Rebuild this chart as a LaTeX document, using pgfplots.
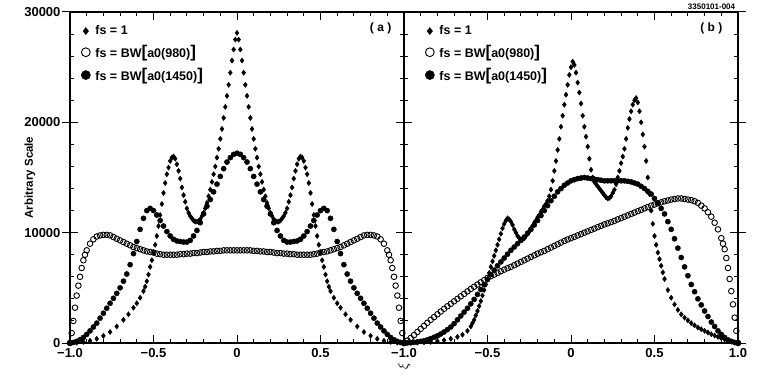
\documentclass[border=0pt]{standalone}
\usepackage{fontspec}
\setmainfont{Liberation Sans}
\usepackage{pgfplots}
\pgfplotsset{compat=1.18}

\newcommand{\lb}{{\fontsize{17}{17}\selectfont[}}
\newcommand{\rb}{{\fontsize{17}{17}\selectfont]}}

\pgfplotsset{
  panel/.style={
    scale only axis, width=334pt, height=331pt,
    anchor=south west, clip mode=individual,
    xmin=-1, xmax=1, ymin=0, ymax=30000,
    xtick={-1,-0.5,0,0.5,1}, ytick={0,10000,20000,30000},
    scaled y ticks=false, scaled x ticks=false,
    minor x tick num=4, minor y tick num=4,
    tick align=inside,
    major tick length=8pt, minor tick length=4pt,
    axis line style={line width=1.3pt},
    every tick/.style={black, line width=1pt},
    extra y ticks={0,10000,20000,30000},
    extra y tick labels={\phantom{0},\phantom{0},\phantom{0},\phantom{0}},
    extra y tick style={tick align=outside, major tick length=8pt},
    ticklabel style={font=\bfseries\fontsize{13}{15}\selectfont},
    xticklabel style={yshift=-2pt},
    yticklabel style={xshift=-6pt},
    legend style={anchor=north west,
      draw=none, fill=none, row sep=5pt, column sep=3pt, inner sep=0pt,
      font=\bfseries\fontsize{12.5}{14}\selectfont},
    legend cell align=left,
    legend image code/.code={\draw[##1] plot coordinates {(0.15cm,0cm)};},
  },
  dia/.style={only marks, mark=diamond*, mark size=2.6pt, black,
    legend image post style={mark size=3.6pt}},
  ope/.style={only marks, mark=o, mark size=2.8pt, black, mark options={line width=0.9pt},
    legend image post style={mark size=4.4pt}},
  ful/.style={only marks, mark=*, mark size=2.6pt, black,
    legend image post style={mark size=4.6pt}},
}

\begin{document}
\begin{tikzpicture}
\useasboundingbox (-70pt,-38pt) rectangle (691pt,343pt);

% ---------------- panel (a)
\begin{axis}[panel, at={(0pt,0pt)},
  xticklabels={−1.0,−0.5,0,0.5,},
  yticklabels={0,10000,20000,30000},
  legend style={at={(axis description cs:0.033,0.965)}},
  every axis y label/.style={at={(axis description cs:-0.12,0.5)}, rotate=90, anchor=center,
    font=\bfseries\fontsize{11.5}{13}\selectfont},
  ylabel={Arbitrary Scale}]
\addplot[dia] coordinates {
(-1.00,0)(-0.96,30)(-0.92,100)(-0.88,200)(-0.84,380)(-0.80,650)(-0.76,1000)(-0.72,1500)
(-0.68,2100)(-0.65,2600)(-0.62,3200)(-0.60,3600)(-0.58,4100)(-0.56,4700)(-0.55,5100)(-0.54,5600)
(-0.53,6200)(-0.52,6900)(-0.51,7500)(-0.50,8200)(-0.49,8900)(-0.48,9700)(-0.47,10600)(-0.46,11600)
(-0.45,12600)(-0.44,13600)(-0.43,14500)(-0.42,15300)(-0.41,15900)(-0.40,16500)(-0.39,16800)(-0.38,16900)
(-0.37,16700)(-0.36,16200)(-0.35,15600)(-0.34,14900)(-0.33,14100)(-0.32,13400)(-0.31,12800)(-0.30,12200)
(-0.29,11800)(-0.28,11500)(-0.27,11300)(-0.26,11100)(-0.25,11000)(-0.24,11000)(-0.23,11050)(-0.22,11200)
(-0.21,11500)(-0.20,11800)(-0.19,12200)(-0.18,12700)(-0.17,13300)(-0.16,13900)(-0.15,14600)(-0.14,15300)
(-0.13,16000)(-0.12,16800)(-0.11,17600)(-0.10,18500)(-0.09,19400)(-0.08,20400)(-0.07,21400)(-0.06,22400)
(-0.05,23400)(-0.04,24500)(-0.03,25600)(-0.02,26600)(-0.01,27500)(0.00,28100)
(0.01,27500)(0.02,26600)(0.03,25600)(0.04,24500)(0.05,23400)(0.06,22400)(0.07,21400)(0.08,20400)
(0.09,19400)(0.10,18500)(0.11,17600)(0.12,16800)(0.13,16000)(0.14,15300)(0.15,14600)(0.16,13900)
(0.17,13300)(0.18,12700)(0.19,12200)(0.20,11800)(0.21,11500)(0.22,11200)(0.23,11050)(0.24,11000)
(0.25,11000)(0.26,11100)(0.27,11300)(0.28,11500)(0.29,11800)(0.30,12200)(0.31,12800)(0.32,13400)
(0.33,14100)(0.34,14900)(0.35,15600)(0.36,16200)(0.37,16700)(0.38,16900)(0.39,16800)(0.40,16500)
(0.41,15900)(0.42,15300)(0.43,14500)(0.44,13600)(0.45,12600)(0.46,11600)(0.47,10600)(0.48,9700)
(0.49,8900)(0.50,8200)(0.51,7500)(0.52,6900)(0.53,6200)(0.54,5600)(0.55,5100)(0.56,4700)
(0.58,4100)(0.60,3600)(0.62,3200)(0.65,2600)(0.68,2100)(0.72,1500)(0.76,1000)(0.80,650)
(0.84,380)(0.88,200)(0.92,100)(0.96,30)(1.00,0)};
\addlegendentry{fs = 1}
\addplot[ope] coordinates {
(-1.00,0)(-0.99,900)(-0.98,2000)(-0.97,3200)(-0.96,4300)(-0.95,5200)(-0.94,6000)(-0.93,6800)
(-0.92,7500)(-0.91,8000)(-0.90,8400)(-0.88,9000)(-0.86,9400)(-0.84,9650)(-0.82,9750)(-0.80,9800)
(-0.78,9800)(-0.76,9750)(-0.74,9600)(-0.72,9450)(-0.70,9300)(-0.68,9150)(-0.66,9000)(-0.64,8850)
(-0.62,8700)(-0.60,8600)(-0.58,8500)(-0.56,8400)(-0.54,8300)(-0.52,8250)(-0.50,8200)(-0.48,8100)
(-0.46,8050)(-0.44,8000)(-0.42,8000)(-0.40,8000)(-0.38,8000)(-0.36,8000)(-0.34,8050)(-0.32,8050)
(-0.30,8100)(-0.28,8100)(-0.26,8150)(-0.24,8150)(-0.22,8200)(-0.20,8250)(-0.18,8250)(-0.16,8300)
(-0.14,8300)(-0.12,8350)(-0.10,8350)(-0.08,8400)(-0.06,8400)(-0.04,8400)(-0.02,8400)(0.00,8400)
(0.02,8400)(0.04,8400)(0.06,8400)(0.08,8400)(0.10,8350)(0.12,8350)(0.14,8300)(0.16,8300)
(0.18,8250)(0.20,8250)(0.22,8200)(0.24,8150)(0.26,8150)(0.28,8100)(0.30,8100)(0.32,8050)
(0.34,8050)(0.36,8000)(0.38,8000)(0.40,8000)(0.42,8000)(0.44,8000)(0.46,8050)(0.48,8100)
(0.50,8200)(0.52,8250)(0.54,8300)(0.56,8400)(0.58,8500)(0.60,8600)(0.62,8700)(0.64,8850)
(0.66,9000)(0.68,9150)(0.70,9300)(0.72,9450)(0.74,9600)(0.76,9750)(0.78,9800)(0.80,9800)
(0.82,9750)(0.84,9650)(0.86,9400)(0.88,9000)(0.90,8400)(0.91,8000)(0.92,7500)(0.93,6800)
(0.94,6000)(0.95,5200)(0.96,4300)(0.97,3200)(0.98,2000)(0.99,900)(1.00,0)};
\addlegendentry{fs = BW\lb a0(980)\rb}
\addplot[ful] coordinates {
(-1.00,0)(-0.98,50)(-0.96,150)(-0.94,300)(-0.92,500)(-0.90,780)(-0.88,1100)(-0.86,1450)
(-0.84,1800)(-0.82,2250)(-0.80,2700)(-0.78,3150)(-0.76,3600)(-0.74,4050)(-0.72,4500)(-0.70,5000)
(-0.68,5600)(-0.66,6250)(-0.64,7100)(-0.62,8100)(-0.60,9200)(-0.58,10300)(-0.56,11300)(-0.54,12000)
(-0.52,12200)(-0.50,12000)(-0.48,11600)(-0.46,11100)(-0.44,10600)(-0.42,10100)(-0.40,9700)(-0.38,9400)
(-0.36,9250)(-0.34,9200)(-0.32,9150)(-0.30,9150)(-0.28,9300)(-0.26,9700)(-0.24,10200)(-0.22,10900)
(-0.20,11700)(-0.18,12400)(-0.16,13000)(-0.14,13700)(-0.12,14400)(-0.10,15100)(-0.08,15800)(-0.06,16400)
(-0.04,16800)(-0.02,17100)(0.00,17200)(0.02,17100)(0.04,16800)(0.06,16400)(0.08,15800)(0.10,15100)
(0.12,14400)(0.14,13700)(0.16,13000)(0.18,12400)(0.20,11700)(0.22,10900)(0.24,10200)(0.26,9700)
(0.28,9300)(0.30,9150)(0.32,9150)(0.34,9200)(0.36,9250)(0.38,9400)(0.40,9700)(0.42,10100)
(0.44,10600)(0.46,11100)(0.48,11600)(0.50,12000)(0.52,12200)(0.54,12000)(0.56,11300)(0.58,10300)
(0.60,9200)(0.62,8100)(0.64,7100)(0.66,6250)(0.68,5600)(0.70,5000)(0.72,4500)(0.74,4050)
(0.76,3600)(0.78,3150)(0.80,2700)(0.82,2250)(0.84,1800)(0.86,1450)(0.88,1100)(0.90,780)
(0.92,500)(0.94,300)(0.96,150)(0.98,50)(1.00,0)};
\addlegendentry{fs = BW\lb a0(1450)\rb}
\node[font=\bfseries\fontsize{12}{14}\selectfont] at (axis description cs:0.93,0.95) {( a )};
\end{axis}

% ---------------- panel (b)
\begin{axis}[panel, at={(334pt,0pt)},
  xticklabels={−1.0,−0.5,0,0.5,1.0},
  yticklabels={\phantom{0},\phantom{0},\phantom{0},\phantom{0}},
  legend style={at={(axis description cs:0.063,0.965)}}]
\addplot[dia] coordinates {
(-1.00,0)(-0.96,10)(-0.92,30)(-0.88,60)(-0.84,100)(-0.80,170)(-0.76,250)(-0.72,380)
(-0.68,560)(-0.65,750)(-0.62,1100)(-0.60,1500)(-0.59,1800)(-0.58,2100)(-0.57,2500)(-0.56,2900)
(-0.55,3350)(-0.54,3800)(-0.53,4300)(-0.52,4800)(-0.51,5300)(-0.50,5800)(-0.49,6350)(-0.48,6900)
(-0.47,7400)(-0.46,7900)(-0.45,8400)(-0.44,8900)(-0.43,9400)(-0.42,9900)(-0.41,10400)(-0.40,10800)
(-0.39,11100)(-0.38,11300)(-0.37,11200)(-0.36,11000)(-0.35,10700)(-0.34,10300)(-0.33,10000)(-0.32,9700)
(-0.31,9500)(-0.30,9400)(-0.29,9400)(-0.28,9500)(-0.27,9700)(-0.26,9900)(-0.25,10100)(-0.24,10400)
(-0.23,10600)(-0.22,10900)(-0.21,11100)(-0.20,11400)(-0.19,11600)(-0.18,11900)(-0.17,12100)(-0.16,12400)
(-0.15,12600)(-0.14,12900)(-0.13,13300)(-0.12,13900)(-0.11,14700)(-0.10,15600)(-0.09,16500)(-0.08,17500)
(-0.07,18500)(-0.06,19600)(-0.05,20600)(-0.04,21600)(-0.03,22500)(-0.02,23400)(-0.01,24300)(0.00,25000)
(0.01,25500)(0.02,25200)(0.03,24500)(0.04,23600)(0.05,22700)(0.06,21700)(0.07,20600)(0.08,19600)
(0.09,18700)(0.10,17800)(0.11,16700)(0.12,15700)(0.13,15000)(0.14,14600)(0.15,14400)(0.16,14200)
(0.17,14000)(0.18,13800)(0.19,13600)(0.20,13400)(0.21,13200)(0.22,13100)(0.23,13150)(0.24,13300)
(0.25,13600)(0.26,13900)(0.27,14400)(0.28,15000)(0.29,15600)(0.30,16300)(0.31,16900)(0.32,17600)
(0.33,18500)(0.34,19500)(0.35,20300)(0.36,21000)(0.37,21600)(0.38,22000)(0.39,22200)(0.40,21800)
(0.41,21000)(0.42,20000)(0.43,18900)(0.44,17800)(0.45,16500)(0.46,15000)(0.47,13500)(0.48,12000)
(0.49,10800)(0.50,9700)(0.51,8900)(0.52,8200)(0.53,7600)(0.54,7000)(0.55,6400)(0.56,5800)
(0.58,4800)(0.60,4100)(0.62,3500)(0.64,3000)(0.66,2600)(0.68,2300)(0.70,2050)(0.72,1800)
(0.74,1600)(0.76,1400)(0.78,1250)(0.80,1100)(0.82,950)(0.84,800)(0.86,680)(0.88,550)
(0.90,430)(0.92,320)(0.94,220)(0.96,130)(0.98,50)(1.00,0)};
\addlegendentry{fs = 1}
\addplot[ope] coordinates {
(-1.00,0)(-0.98,220)(-0.96,450)(-0.94,720)(-0.92,1000)(-0.90,1280)(-0.88,1550)(-0.86,1830)
(-0.84,2100)(-0.82,2350)(-0.80,2600)(-0.78,2850)(-0.76,3100)(-0.74,3330)(-0.72,3550)(-0.70,3780)
(-0.68,4000)(-0.66,4230)(-0.64,4450)(-0.62,4680)(-0.60,4900)(-0.58,5100)(-0.56,5300)(-0.54,5500)
(-0.52,5700)(-0.50,5900)(-0.48,6050)(-0.46,6200)(-0.44,6350)(-0.42,6500)(-0.40,6650)(-0.38,6780)
(-0.36,6900)(-0.34,7050)(-0.32,7200)(-0.30,7350)(-0.28,7500)(-0.26,7650)(-0.24,7800)(-0.22,7950)
(-0.20,8100)(-0.18,8220)(-0.16,8350)(-0.14,8500)(-0.12,8650)(-0.10,8800)(-0.08,8950)(-0.06,9100)
(-0.04,9250)(-0.02,9380)(0.00,9500)(0.02,9620)(0.04,9750)(0.06,9870)(0.08,10000)(0.10,10120)
(0.12,10250)(0.14,10370)(0.16,10500)(0.18,10620)(0.20,10750)(0.22,10850)(0.24,10950)(0.26,11070)
(0.28,11200)(0.30,11320)(0.32,11450)(0.34,11570)(0.36,11700)(0.38,11820)(0.40,11950)(0.42,12070)
(0.44,12200)(0.46,12320)(0.48,12450)(0.50,12550)(0.52,12650)(0.54,12750)(0.56,12850)(0.58,12920)
(0.60,13000)(0.62,13050)(0.64,13100)(0.66,13100)(0.68,13050)(0.70,13000)(0.72,12950)(0.74,12850)
(0.76,12700)(0.78,12450)(0.80,12200)(0.82,11850)(0.84,11450)(0.86,10900)(0.88,10300)(0.90,9500)
(0.91,9000)(0.92,8500)(0.93,7700)(0.94,6800)(0.95,5800)(0.96,4700)(0.97,3500)(0.98,2300)
(0.99,1100)(1.00,0)};
\addlegendentry{fs = BW\lb a0(980)\rb}
\addplot[ful] coordinates {
(-1.00,0)(-0.98,10)(-0.96,30)(-0.94,60)(-0.92,100)(-0.90,150)(-0.88,200)(-0.86,290)
(-0.84,400)(-0.82,520)(-0.80,650)(-0.78,820)(-0.76,1000)(-0.74,1220)(-0.72,1450)(-0.70,1750)
(-0.68,2100)(-0.66,2450)(-0.64,2800)(-0.62,3150)(-0.60,3550)(-0.58,3950)(-0.56,4400)(-0.54,4850)
(-0.52,5300)(-0.50,5750)(-0.48,6200)(-0.46,6600)(-0.44,7000)(-0.42,7350)(-0.40,7700)(-0.38,8050)
(-0.36,8400)(-0.34,8700)(-0.32,9000)(-0.30,9300)(-0.28,9600)(-0.26,9950)(-0.24,10300)(-0.22,10700)
(-0.20,11100)(-0.18,11550)(-0.16,12000)(-0.14,12450)(-0.12,12900)(-0.10,13300)(-0.08,13700)(-0.06,14000)
(-0.04,14300)(-0.02,14500)(0.00,14700)(0.02,14800)(0.04,14900)(0.06,14950)(0.08,15000)(0.10,14950)
(0.12,14900)(0.14,14850)(0.16,14800)(0.18,14750)(0.20,14700)(0.22,14700)(0.24,14700)(0.26,14700)
(0.28,14700)(0.30,14700)(0.32,14700)(0.34,14650)(0.36,14600)(0.38,14500)(0.40,14400)(0.42,14200)
(0.44,14000)(0.46,13750)(0.48,13500)(0.50,13100)(0.52,12700)(0.54,12200)(0.56,11700)(0.58,11000)
(0.60,10300)(0.62,9450)(0.64,8600)(0.66,7750)(0.68,6900)(0.70,6100)(0.72,5300)(0.74,4650)
(0.76,4000)(0.78,3450)(0.80,2900)(0.82,2400)(0.84,1900)(0.86,1500)(0.88,1100)(0.90,780)
(0.92,500)(0.94,280)(0.96,150)(0.98,50)(1.00,0)};
\addlegendentry{fs = BW\lb a0(1450)\rb}
\node[font=\bfseries\fontsize{12}{14}\selectfont] at (axis description cs:0.92,0.95) {( b )};
\node[rotate=90, font=\fontsize{15}{16}\selectfont] at (axis description cs:0,-0.07) {$\xi$};
\node[anchor=south east, inner sep=1pt, font=\bfseries\fontsize{8}{9}\selectfont] at (axis description cs:0.995,1.004) {3350101-004};
\end{axis}
\end{tikzpicture}
\end{document}
